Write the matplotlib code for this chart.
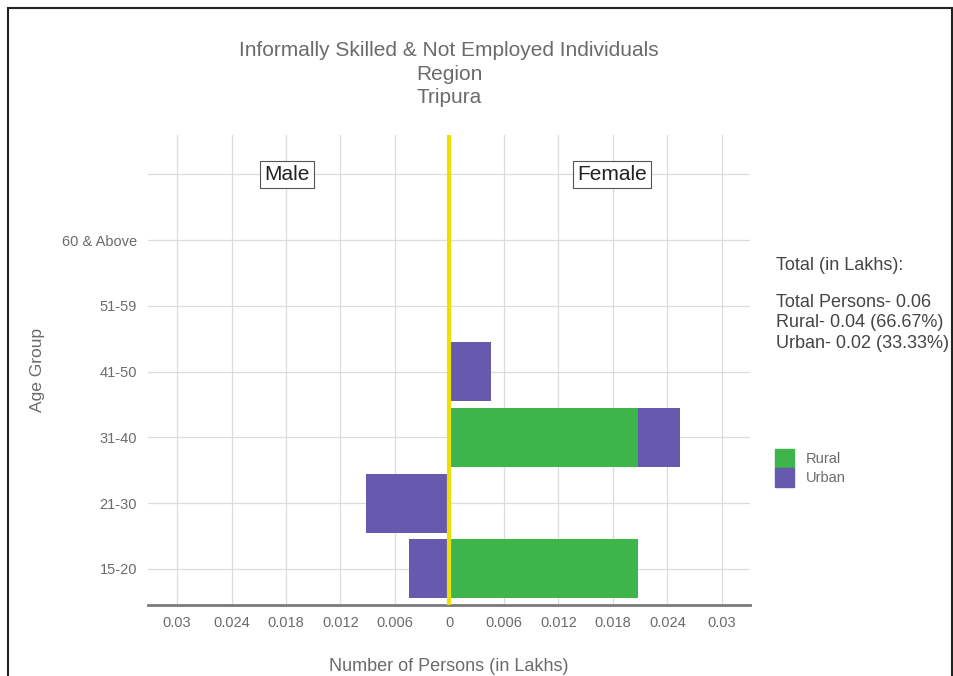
import matplotlib.pyplot as plt
from matplotlib.patches import Rectangle, Patch

plt.rcParams['font.family'] = ['Liberation Sans', 'DejaVu Sans']

# data (in lakhs)
age_groups = ["15-20", "21-30", "31-40", "41-50", "51-59", "60 & Above"]
male_rural = [0, 0, 0, 0, 0, 0]
male_urban = [0.0045, 0.0092, 0, 0, 0, 0]
female_rural = [0.0208, 0, 0.0208, 0, 0, 0]
female_urban = [0, 0, 0.0046, 0.0046, 0, 0]
xticks = [-0.03, -0.024, -0.018, -0.012, -0.006, 0, 0.006, 0.012, 0.018, 0.024, 0.03]
xtick_labels = ["0.03", "0.024", "0.018", "0.012", "0.006", "0", "0.006", "0.012", "0.018", "0.024", "0.03"]

green = "#3db54a"
purple = "#6759ae"
grey = "#6b6b6b"

fig = plt.figure(figsize=(9.54, 6.76), dpi=100)
ax = fig.add_axes([148/954, 1-605/676, (750-148)/954, (605-135)/676])

y = list(range(len(age_groups)))
h = 0.9
# male side (negative)
ax.barh(y, [-v for v in male_rural], height=h, color=green, zorder=2)
ax.barh(y, [-v for v in male_urban], left=[-v for v in male_rural], height=h, color=purple, zorder=2)
# female side
ax.barh(y, female_rural, height=h, color=green, zorder=2)
ax.barh(y, female_urban, left=female_rural, height=h, color=purple, zorder=2)

ax.axvline(0, color="#eee000", lw=3, zorder=4)

ax.set_xlim(-0.0332, 0.0331)
ax.set_ylim(-0.55, 6.6)
ax.set_xticks(xticks)
ax.set_xticklabels(xtick_labels)
ax.set_yticks(y + [6])
ax.set_yticklabels(age_groups + [""])
ax.tick_params(axis="both", length=0, colors=grey, labelsize=10.5, pad=8)
ax.grid(True, color="#dcdcdc", lw=0.9, zorder=0)
for s in ["top", "right", "left"]:
    ax.spines[s].set_visible(False)
ax.spines["bottom"].set_color("#7a7a7a")
ax.spines["bottom"].set_linewidth(2)

ax.set_xlabel("Number of Persons (in Lakhs)", color=grey, fontsize=13, labelpad=20)
ax.set_ylabel("Age Group", color=grey, fontsize=12.5, labelpad=12)

box = dict(boxstyle="square,pad=0.2", fc="white", ec="#555555", lw=0.8)
ax.text(-0.0179, 6, "Male", ha="center", va="center", fontsize=15, color="#222222", bbox=box, zorder=5)
ax.text(0.0179, 6, "Female", ha="center", va="center", fontsize=15, color="#222222", bbox=box, zorder=5)

fig.text(449/954, 1-74/676, "Informally Skilled & Not Employed Individuals\nRegion\nTripura",
         ha="center", va="center", fontsize=15, color=grey, linespacing=1.3)
fig.text(776/954, 1-265/676, "Total (in Lakhs):", ha="left", va="center", fontsize=13, color="#444444")
fig.text(776/954, 1-323/676, "Total Persons- 0.06\nRural- 0.04 (66.67%)\nUrban- 0.02 (33.33%)",
         ha="left", va="center", fontsize=13, color="#444444", linespacing=1.28)

handles = [Patch(color=green, label="Rural"), Patch(color=purple, label="Urban")]
leg = fig.legend(handles=handles, loc="upper left", bbox_to_anchor=(762/954, 1-436/676), frameon=False,
                 fontsize=10.5, handlelength=1.3, handleheight=1.6, labelspacing=0.0, handletextpad=0.8)
for t in leg.get_texts():
    t.set_color(grey)

fig.patches.append(Rectangle((8/954, -0.05), 944/954, 1.05 - 8/676, transform=fig.transFigure,
                             fill=False, ec="#222222", lw=1.5))

plt.savefig("out.png", dpi=100)
